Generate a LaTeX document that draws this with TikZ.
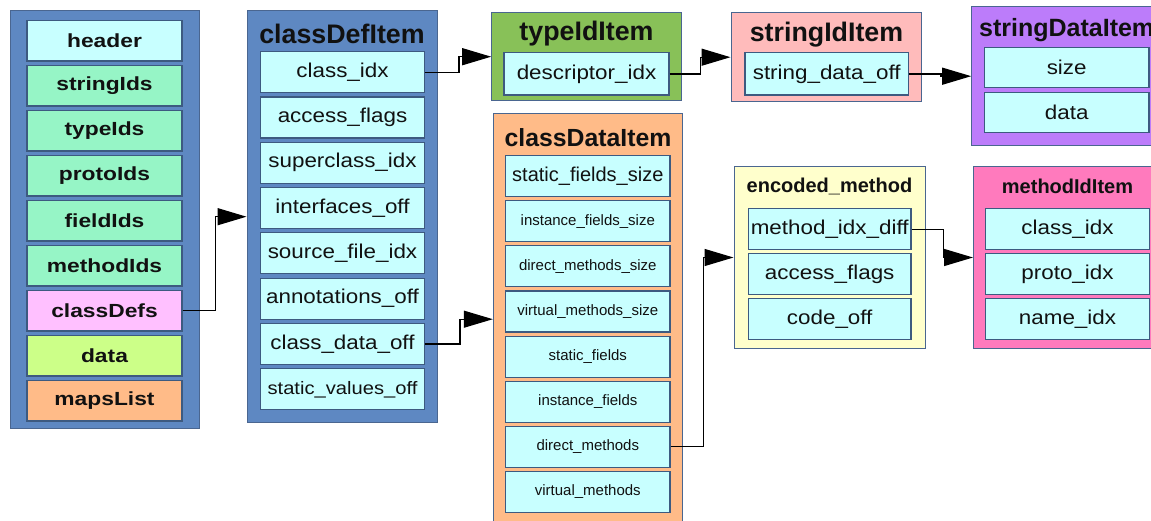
\documentclass[tikz,border=0pt]{standalone}
\usepackage{fontspec}
\setmainfont{Liberation Sans}
\newfontfamily\itemfont[FakeStretch=1.12]{Liberation Sans}
\newfontfamily\listfont[FakeStretch=1.2]{Liberation Sans}
\usetikzlibrary{arrows.meta}

\definecolor{dexblue}{HTML}{5E88C2}
\definecolor{panelline}{HTML}{4A6690}
\definecolor{itemline}{HTML}{3D5A80}
\definecolor{cyanfill}{HTML}{C8FFFF}
\definecolor{idsgreen}{HTML}{96F5C6}
\definecolor{defspink}{HTML}{FFC0FF}
\definecolor{datalime}{HTML}{CCFF88}
\definecolor{mapspeach}{HTML}{FFBB88}
\definecolor{typegreen}{HTML}{88C158}
\definecolor{strpink}{HTML}{FFBBBB}
\definecolor{strpurple}{HTML}{BC7CFA}
\definecolor{clspeach}{HTML}{FFBB88}
\definecolor{encyellow}{HTML}{FFFFCC}
\definecolor{methpink}{HTML}{FF7ABD}
\definecolor{ink}{HTML}{111111}

\begin{document}
\begin{tikzpicture}[x=1pt,y=-1pt,
  panel/.style={draw=panelline, line width=1pt, inner sep=0pt},
  title/.style={inner sep=0pt, text=ink, font=\bfseries\fontsize{26.8pt}{28pt}\selectfont},
  subtitle/.style={inner sep=0pt, text=ink, font=\bfseries\fontsize{20pt}{22pt}\selectfont},
  lst/.style={draw=itemline, line width=1.2pt, inner sep=0pt, text=ink,
    minimum width=155pt, minimum height=40.5pt,
    font=\listfont\bfseries\fontsize{19pt}{21pt}\selectfont},
  fld/.style={draw=itemline, fill=cyanfill, line width=1.2pt, inner sep=0pt, text=ink,
    minimum height=41pt, font=\itemfont\fontsize{20pt}{22pt}\selectfont},
  sfld/.style={fld, font=\fontsize{15pt}{17pt}\selectfont},
  arr/.style={draw=black, line width=1.3pt, -{Triangle[length=29pt,width=17pt]}}
]
\useasboundingbox (0,0) rectangle (1151,521);
\clip (0,0) rectangle (1151,521);

% dex file sections
\node[panel, fill=dexblue, minimum width=189pt, minimum height=417pt] (dex) at (104.5,219.5) {};
\node[lst, fill=cyanfill]  (header)    at (104.5,40.75)  {header};
\node[lst, fill=idsgreen]  (stringids) at (104.5,85.75)  {stringIds};
\node[lst, fill=idsgreen]  (typeids)   at (104.5,130.75) {typeIds};
\node[lst, fill=idsgreen]  (protoids)  at (104.5,175.75) {protoIds};
\node[lst, fill=idsgreen]  (fieldids)  at (104.5,220.75) {fieldIds};
\node[lst, fill=idsgreen]  (methodids) at (104.5,265.75) {methodIds};
\node[lst, fill=defspink]  (classdefs) at (104.5,310.75) {classDefs};
\node[lst, fill=datalime]  (data)      at (104.5,355.75) {data};
\node[lst, fill=mapspeach] (mapslist)  at (104.5,400.75) {mapsList};

% classDefItem
\node[panel, fill=dexblue, minimum width=190pt, minimum height=412pt] (cdi) at (342,216.7) {};
\node[title] (cditit) at (342,34) {classDefItem};
\begin{scope}[every node/.append style={fld, minimum width=163.6pt}]
\node (cdclassidx)  at (342.5,72.2)  {class\_idx};
\node (cdaccess)    at (342.5,117.5) {access\_flags};
\node (cdsuper)     at (342.5,162.8) {superclass\_idx};
\node (cdinterf)    at (342.5,208.1) {interfaces\_off};
\node (cdsource)    at (342.5,253.4) {source\_file\_idx};
\node (cdannot)     at (342.5,298.7) {annotations\_off};
\node (cddataoff)   at (342.5,344.0) {class\_data\_off};
\node[font=\itemfont\fontsize{18pt}{20pt}\selectfont] (cdstatic) at (342.5,389.3) {static\_values\_off};
\end{scope}

% typeIdItem
\node[panel, fill=typegreen, minimum width=189.3pt, minimum height=88pt] (tii) at (586.35,56.7) {};
\node[title] (tiitit) at (586.5,34) {typeIdItem};
\node[fld, minimum width=165pt, minimum height=42.3pt] (descidx) at (586.5,73.9) {descriptor\_idx};

% stringIdItem
\node[panel, fill=strpink, minimum width=190.7pt, minimum height=89pt] (sii) at (826.35,57.2) {};
\node[title] (siitit) at (826.5,35) {stringIdItem};
\node[fld, minimum width=163.3pt, minimum height=42.3pt] (strdataoff) at (826.7,73.9) {string\_data\_off};

% stringDataItem
\node[panel, fill=strpurple, minimum width=190pt, minimum height=139pt] (sdi) at (1066.7,76.2) {};
\node[title, font=\bfseries\fontsize{25pt}{27pt}\selectfont] (sditit) at (1066.7,30) {stringDataItem};
\node[fld, minimum width=164.7pt, minimum height=40pt] (sdsize) at (1066.7,67.7)  {size};
\node[fld, minimum width=164.7pt, minimum height=40pt] (sddata) at (1066.7,112.7) {data};

% classDataItem
\node[panel, fill=clspeach, minimum width=189pt, minimum height=411.7pt] (cdat) at (587.8,319.2) {};
\node[title, font=\bfseries\fontsize{24.8pt}{26pt}\selectfont] (cdattit) at (588,138) {classDataItem};
\begin{scope}[every node/.append style={minimum width=164.3pt, minimum height=41.5pt}]
\node[fld, font=\fontsize{20pt}{22pt}\selectfont] (sfsize) at (587.8,176.2) {static\_fields\_size};
\node[sfld] (ifsize)  at (587.8,221.3) {instance\_fields\_size};
\node[sfld] (dmsize)  at (587.8,266.4) {direct\_methods\_size};
\node[sfld] (vmsize)  at (587.8,311.5) {virtual\_methods\_size};
\node[sfld] (sfields) at (587.8,356.6) {static\_fields};
\node[sfld] (ifields) at (587.8,401.7) {instance\_fields};
\node[sfld] (dmeth)   at (587.8,446.8) {direct\_methods};
\node[sfld] (vmeth)   at (587.8,491.9) {virtual\_methods};
\end{scope}

% encoded_method
\node[panel, fill=encyellow, minimum width=191pt, minimum height=181.6pt] (enc) at (829.5,257.5) {};
\node[subtitle] (enctit) at (829.5,186.7) {encoded\_method};
\begin{scope}[every node/.append style={fld, minimum width=162.7pt}]
\node (midxdiff) at (829.7,229.2) {method\_idx\_diff};
\node (encacc)   at (829.7,274.2) {access\_flags};
\node (codeoff)  at (829.7,318.8) {code\_off};
\end{scope}

% methodIdItem
\node[panel, fill=methpink, minimum width=188pt, minimum height=181.6pt] (mii) at (1067.5,257.5) {};
\node[subtitle] (miitit) at (1067.5,186.7) {methodIdItem};
\begin{scope}[every node/.append style={fld, minimum width=163.6pt}]
\node (miclass) at (1067.5,229.2) {class\_idx};
\node (miproto) at (1067.5,274.2) {proto\_idx};
\node (miname)  at (1067.5,318.8) {name\_idx};
\end{scope}

% references between items
\draw[arr] (classdefs.east) -- ++(33pt,0) |- (cdi.west);
\draw[arr] (cdclassidx.east) -- ++(34pt,0) |- (tii.west);
\draw[arr] (descidx.east) -- ++(31pt,0) |- (sii.west);
\draw[arr] (strdataoff.east) -- ++(32pt,0) |- (sdi.west);
\draw[arr] (cddataoff.east) -- ++(35pt,0) |- (cdat.west);
\draw[arr] (dmeth.east) -- ++(32.7pt,0) |- (enc.west);
\draw[arr] (midxdiff.east) -- ++(31.7pt,0) |- (mii.west);
\end{tikzpicture}
\end{document}
